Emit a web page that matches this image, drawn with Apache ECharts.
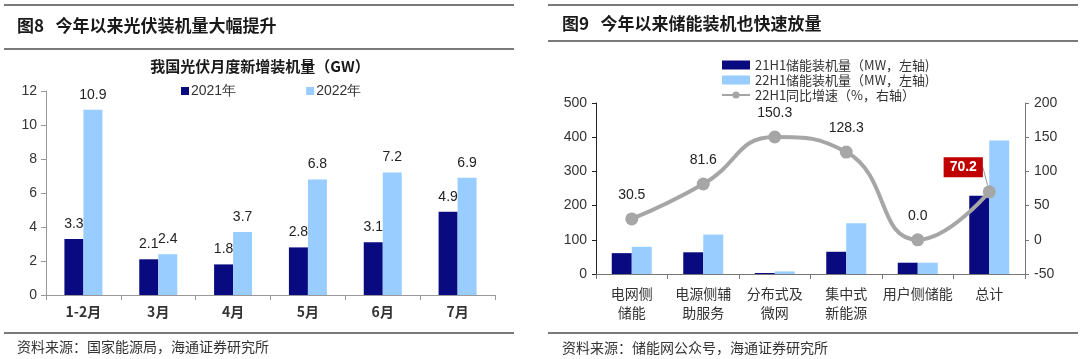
<!DOCTYPE html>
<html>
<head>
<meta charset="utf-8">
<script src="https://cdn.jsdelivr.net/npm/echarts@6/dist/echarts.min.js"></script>
<style>
html,body{margin:0;padding:0;background:#fff;}
#c{width:1080px;height:359px;}
</style>
</head>
<body>
<div id="c"></div>
<script>
// ---- Left chart data ----
const pvCategories = ['1-2月', '3月', '4月', '5月', '6月', '7月'];
const pv2021 = [3.3, 2.1, 1.8, 2.8, 3.1, 4.9];
const pv2022 = [10.9, 2.4, 3.7, 6.8, 7.2, 6.9];
const pvYTicks = [0, 2, 4, 6, 8, 10, 12];

// ---- Right chart data ----
const esCategories = ['电网侧\n储能', '电源侧辅\n助服务', '分布式及\n微网', '集中式\n新能源', '用户侧储能', '总计'];
const es21H1 = [61, 63.5, 3, 65, 33, 229];
const es22H1 = [79.6, 115.3, 7.5, 148.4, 33, 390];
const esGrowth = [30.5, 81.6, 150.3, 128.3, 0.0, 70.2];
const esLeftTicks = [0, 100, 200, 300, 400, 500];
const esRightTicks = [-50, 0, 50, 100, 150, 200];

const NAVY = '#0a0a80';
const LIGHT = '#99ccff';
const GRAY = '#a6a6a6';
const CJK = '"Noto Sans CJK SC", sans-serif';
const NUM = '"Liberation Sans", Arial, sans-serif';

const chart = echarts.init(document.getElementById('c'), null, {renderer: 'canvas'});

function hline(x1, x2, y) {
  return {type: 'line', shape: {x1: x1, y1: y, x2: x2, y2: y}, style: {stroke: '#7a7a7a', lineWidth: 2}, silent: true};
}
function txt(x, y, s, size, weight, color) {
  return {type: 'text', x: x, y: y, style: {text: s, font: (weight || 'normal') + ' ' + size + 'px ' + CJK, fill: color || '#222', textVerticalAlign: 'middle'}, silent: true};
}

const lastIdx = esGrowth.length - 1;

const option = {
  animation: false,
  backgroundColor: '#fff',
  graphic: [
    hline(4, 514, 5), hline(4, 514, 49), hline(4, 514, 333),
    hline(548, 1078, 5), hline(548, 1078, 41), hline(548, 1078, 333),
    txt(17, 26, '图8   今年以来光伏装机量大幅提升', 17, 'bold', '#1a1a1a'),
    txt(562, 24, '图9   今年以来储能装机也快速放量', 17, 'bold', '#1a1a1a'),
    txt(17, 347, '资料来源：国家能源局，海通证券研究所', 14, 'normal', '#333'),
    txt(562, 348, '资料来源：储能网公众号，海通证券研究所', 14, 'normal', '#333'),
    {type: 'text', x: 260, y: 66, style: {text: '我国光伏月度新增装机量（GW）', font: 'bold 15px ' + CJK, fill: '#1a1a1a', textAlign: 'center', textVerticalAlign: 'middle'}, silent: true}
  ],
  legend: [
    {
      left: 176, top: 79, itemWidth: 8, itemHeight: 8, itemGap: 70, icon: 'rect',
      data: ['2021年', '2022年'],
      textStyle: {fontFamily: NUM, fontSize: 14, color: '#333', padding: [0, 0, 0, -3]}
    },
    {
      left: 716, top: 53, orient: 'vertical', itemWidth: 28, itemHeight: 9, itemGap: 1,
      data: [{name: '21H1储能装机量（MW，左轴)', icon: 'rect'}, {name: '22H1储能装机量（MW，左轴)', icon: 'rect'}, {name: '22H1同比增速（%，右轴）'}],
      textStyle: {fontFamily: CJK, fontSize: 13, color: '#333', lineHeight: 14}
    }
  ],
  grid: [
    {left: 46, top: 91, width: 449, height: 204, containLabel: false},
    {left: 596, top: 103, width: 429, height: 171, containLabel: false}
  ],
  xAxis: [
    {
      type: 'category', gridIndex: 0, data: pvCategories,
      axisLine: {lineStyle: {color: '#999'}},
      axisTick: {show: true, length: 5, lineStyle: {color: '#999'}},
      axisLabel: {fontFamily: CJK, fontSize: 14, fontWeight: 'bold', color: '#333', margin: 10}
    },
    {
      type: 'category', gridIndex: 1, data: esCategories,
      axisLine: {lineStyle: {color: '#777'}},
      axisTick: {show: true, length: 5, lineStyle: {color: '#777'}},
      axisLabel: {fontFamily: CJK, fontSize: 14, color: '#333', margin: 10, lineHeight: 19, interval: 0}
    }
  ],
  yAxis: [
    {
      type: 'value', gridIndex: 0, min: pvYTicks[0], max: pvYTicks[pvYTicks.length - 1], interval: 2,
      axisLine: {show: true, lineStyle: {color: '#999'}},
      axisTick: {show: true, length: 5, lineStyle: {color: '#999'}},
      splitLine: {show: false},
      axisLabel: {fontFamily: NUM, fontSize: 14, color: '#333', margin: 9}
    },
    {
      type: 'value', gridIndex: 1, min: esLeftTicks[0], max: esLeftTicks[esLeftTicks.length - 1], interval: 100,
      axisLine: {show: true, lineStyle: {color: '#222'}},
      axisTick: {show: true, length: 4, lineStyle: {color: '#222'}},
      splitLine: {show: false},
      axisLabel: {fontFamily: NUM, fontSize: 14, color: '#333', margin: 9}
    },
    {
      type: 'value', gridIndex: 1, position: 'right', min: esRightTicks[0], max: esRightTicks[esRightTicks.length - 1], interval: 50,
      axisLine: {show: true, lineStyle: {color: '#777'}},
      axisTick: {show: true, length: 4, lineStyle: {color: '#777'}},
      splitLine: {show: false},
      axisLabel: {fontFamily: NUM, fontSize: 14, color: '#333', margin: 9}
    }
  ],
  series: [
    {
      name: '2021年', type: 'bar', xAxisIndex: 0, yAxisIndex: 0, data: pv2021,
      barWidth: 19, barGap: '0%', itemStyle: {color: NAVY},
      label: {show: true, position: 'top', distance: 8, fontFamily: NUM, fontSize: 14, color: '#222'}
    },
    {
      name: '2022年', type: 'bar', xAxisIndex: 0, yAxisIndex: 0, data: pv2022,
      barWidth: 19, barGap: '0%', itemStyle: {color: LIGHT},
      label: {show: true, position: 'top', distance: 8, fontFamily: NUM, fontSize: 14, color: '#222'}
    },
    {
      name: '21H1储能装机量（MW，左轴)', type: 'bar', xAxisIndex: 1, yAxisIndex: 1, data: es21H1,
      barWidth: 20, barGap: '0%', itemStyle: {color: NAVY}, z: 1
    },
    {
      name: '22H1储能装机量（MW，左轴)', type: 'bar', xAxisIndex: 1, yAxisIndex: 1, data: es22H1,
      barWidth: 20, barGap: '0%', itemStyle: {color: LIGHT}, z: 1
    },
    {
      name: '22H1同比增速（%，右轴）', type: 'line', xAxisIndex: 1, yAxisIndex: 2,
      data: esGrowth.map(function (v, i) {
        if (i === lastIdx) {
          return {value: v, label: {backgroundColor: '#c00000', color: '#fff', fontWeight: 'bold', padding: [3, 6]}};
        }
        return {value: v, labelLine: {show: false}};
      }),
      smooth: 0.5, symbol: 'circle', symbolSize: 13, z: 5,
      lineStyle: {color: GRAY, width: 4}, itemStyle: {color: GRAY},
      label: {show: true, position: 'top', distance: 10, fontFamily: NUM, fontSize: 14, color: '#222', formatter: function (p) { return Number(p.value).toFixed(1); }},
      labelLine: {show: true, length2: 0, lineStyle: {color: '#999', width: 1}},
      labelLayout: function (p) {
        if (p.dataIndex === lastIdx) return {dx: -26, dy: 2};
        return {};
      }
    }
  ]
};
chart.setOption(option);
</script>
</body>
</html>
